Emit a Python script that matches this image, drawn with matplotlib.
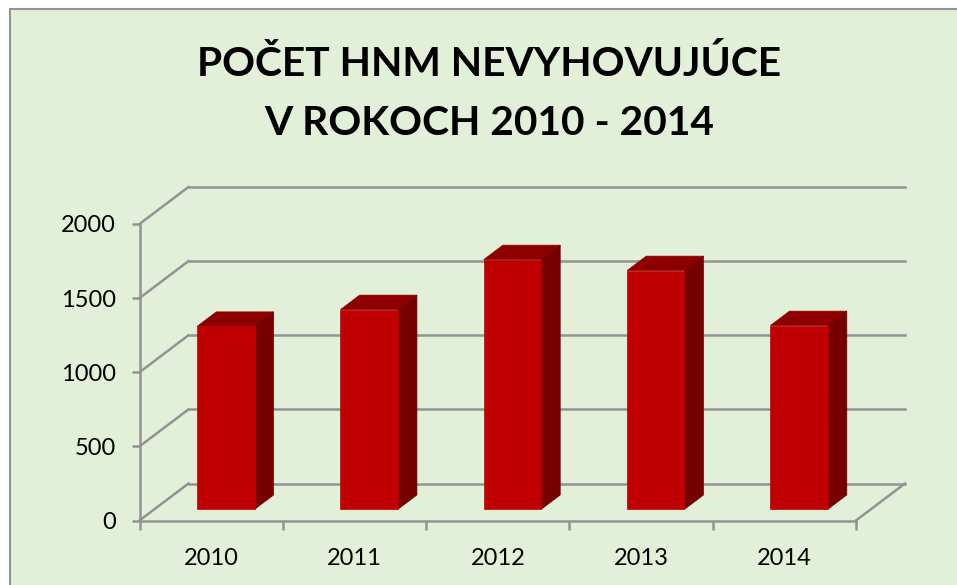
import matplotlib
matplotlib.use('Agg')
import matplotlib.pyplot as plt
from matplotlib.patches import Polygon, Rectangle
from matplotlib.transforms import Affine2D

years = ['2010', '2011', '2012', '2013', '2014']
values = [1235, 1348, 1685, 1611, 1240]
y_ticks = [0, 500, 1000, 1500, 2000]
title_lines = ['POČET HNM NEVYHOVUJÚCE', 'V ROKOCH 2010 - 2014']

W, H = 957, 585
GREY = '#939393'
LW = 1.8
# depth of the fake 3d box, in pixels
DEPTH_X, DEPTH_Y = 49, 37
BAR_WIDTH = 0.40

plt.rcParams['font.family'] = ['Lato', 'DejaVu Sans']

fig = plt.figure(figsize=(W / 100, H / 100), dpi=100, facecolor='white')

# green panel, runs off the right and bottom edge
fig.add_artist(Rectangle((9.5 / W, -0.05), 1.1, 1.05 - 9.5 / H, transform=fig.transFigure,
                         facecolor='#E2EFD9', edgecolor=GREY, linewidth=1.5, zorder=-2))

ax = fig.add_axes([139.5 / W, 1 - 520.5 / H, 716.5 / W, 296.5 / H])
ax.set_xlim(0, len(years))
ax.set_ylim(0, 2000)
ax.patch.set_visible(False)
for side in ['top', 'right']:
    ax.spines[side].set_visible(False)
for side in ['left', 'bottom']:
    ax.spines[side].set_color(GREY)
    ax.spines[side].set_linewidth(LW)

ax.set_yticks(y_ticks)
ax.set_xticks(range(len(years) + 1))
ax.set_xticklabels([])
ax.set_xticks([i + 0.5 for i in range(len(years))], minor=True)
ax.set_xticklabels(years, minor=True)
ax.tick_params(axis='y', length=5.8, width=LW, color=GREY, labelsize=17, pad=11)
ax.tick_params(axis='x', which='major', length=6.5, width=LW, color=GREY)
ax.tick_params(axis='x', which='minor', length=0, labelsize=17, pad=19.5)


def shifted(frac):
    return ax.transData + Affine2D().translate(DEPTH_X * frac, DEPTH_Y * frac)


def slanted_line(x, v):
    p0 = shifted(0).transform((x, v))
    p1 = shifted(1).transform((x, v))
    fig.add_artist(plt.Line2D([p0[0] / W, p1[0] / W], [p0[1] / H, p1[1] / H], color=GREY, lw=LW,
                              transform=fig.transFigure, zorder=-1))


# back wall grid lines and the slanted bits on the left wall
for v in y_ticks:
    ax.plot([0, len(years)], [v, v], color=GREY, lw=LW, transform=shifted(1), clip_on=False, zorder=1)
    slanted_line(0, v)

# right edge of the floor
slanted_line(len(years), 0)

# bars: front face, top and side, front face sits a bit inside the floor
FRONT, BACK = 0.30, 0.69
for i, val in enumerate(values):
    x0 = i + 0.5 - BAR_WIDTH / 2
    x1 = i + 0.5 + BAR_WIDTH / 2
    f = shifted(FRONT)
    b = shifted(BACK)
    corners = [f.transform((x0, val)), f.transform((x1, val)), b.transform((x1, val)), b.transform((x0, val))]
    side = [f.transform((x1, 0)), b.transform((x1, 0)), b.transform((x1, val)), f.transform((x1, val))]
    ax.add_patch(Polygon(ax.transData.inverted().transform(corners), closed=True, facecolor='#8E0000',
                         edgecolor='#8E0000', lw=0.5, zorder=3, clip_on=False))
    ax.add_patch(Polygon(ax.transData.inverted().transform(side), closed=True, facecolor='#760000',
                         edgecolor='#760000', lw=0.5, zorder=3, clip_on=False))
    ax.add_patch(Rectangle((x0, 0), BAR_WIDTH, val, transform=f, facecolor='#C00000',
                           edgecolor='#C00000', lw=0.5, zorder=4, clip_on=False))

fig.text(489.5 / W, 1 - 76 / H, title_lines[0], ha='center', va='baseline', fontsize=29.3, fontweight='bold')
fig.text(489.5 / W, 1 - 135 / H, title_lines[1], ha='center', va='baseline', fontsize=29.3, fontweight='bold')

fig.savefig('out.png', dpi=100)
